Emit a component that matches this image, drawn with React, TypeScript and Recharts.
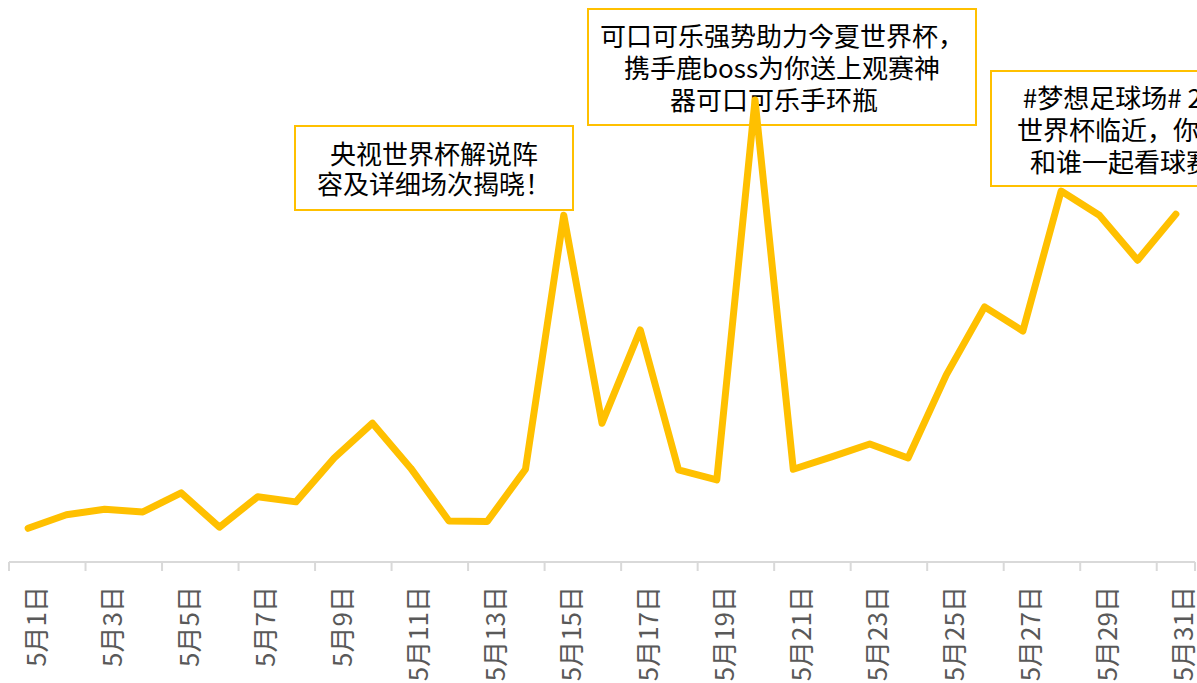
import React from 'react';
import { LineChart, Line, XAxis, YAxis } from 'recharts';

const days = [
  '5月1日', '5月2日', '5月3日', '5月4日', '5月5日', '5月6日', '5月7日', '5月8日',
  '5月9日', '5月10日', '5月11日', '5月12日', '5月13日', '5月14日', '5月15日', '5月16日',
  '5月17日', '5月18日', '5月19日', '5月20日', '5月21日', '5月22日', '5月23日', '5月24日',
  '5月25日', '5月26日', '5月27日', '5月28日', '5月29日', '5月30日', '5月31日',
];

const heat = [
  6.0, 8.4, 9.4, 8.9, 12.3, 6.2, 11.6, 10.7, 18.5, 24.7, 16.7, 7.3, 7.2, 16.5, 61.7, 24.7,
  41.3, 16.4, 14.6, 82.2, 16.5, 18.7, 21.0, 18.5, 33.3, 45.4, 41.1, 66.0, 61.7, 53.7, 61.9,
];

const notes1 = ['央视世界杯解说阵', '容及详细场次揭晓！'];
const notes2 = ['可口可乐强势助力今夏世界杯，', '携手鹿boss为你送上观赛神', '器可口可乐手环瓶'];
const notes3 = ['#梦想足球场# 2018', '世界杯临近，你最想', '和谁一起看球赛？'];

const data = days.map((d, i) => ({ x: i + 1, label: d, value: heat[i] }));
const axisTicks: number[] = [];
days.forEach((_, i) => {
  if (i % 2 === 0) {
    axisTicks.push(i + 0.5);
    axisTicks.push(i + 1);
  }
});
axisTicks.push(days.length + 0.5);

const FONT = '"Noto Sans CJK SC", "Noto Sans", sans-serif';

const AxisTick = (props: any) => {
  const { x, y, payload } = props;
  const v = payload.value as number;
  if (Number.isInteger(v)) {
    const tx = x + 6;
    const ty = y + 24;
    return (
      <text
        x={tx}
        y={ty}
        transform={`rotate(-90, ${tx}, ${ty})`}
        textAnchor="end"
        dominantBaseline="central"
        fill="#595959"
        fontSize={26}
        fontFamily={FONT}
      >
        {days[v - 1]}
      </text>
    );
  }
  return <line x1={x} y1={y} x2={x} y2={y + 9} stroke="#d9d9d9" strokeWidth={2} />;
};

const boxStyle = (left: number, top: number, width: number, height: number, lh: number): React.CSSProperties => ({
  position: 'absolute',
  left,
  top,
  width,
  height,
  boxSizing: 'border-box',
  border: '2px solid #FFC000',
  background: '#ffffff',
  display: 'flex',
  flexDirection: 'column',
  justifyContent: 'center',
  alignItems: 'center',
  fontFamily: FONT,
  fontSize: 26,
  lineHeight: `${lh}px`,
  color: '#000000',
  whiteSpace: 'nowrap',
  zIndex: 0,
});

export default function App() {
  return (
    <div
      style={{
        position: 'absolute',
        left: 0,
        top: 0,
        width: 1197,
        height: 683,
        overflow: 'hidden',
        background: '#ffffff',
      }}
    >
      <div style={boxStyle(294, 125, 280, 86, 30)}>
        {notes1.map((t) => (
          <div key={t}>{t}</div>
        ))}
      </div>
      <div style={boxStyle(587, 8, 390, 118, 32)}>
        {notes2.map((t, i) => (
          <div key={t} style={{ paddingRight: i === 2 ? 16 : 0 }}>{t}</div>
        ))}
      </div>
      <div style={boxStyle(990, 70, 288, 117, 32)}>
        {notes3.map((t) => (
          <div key={t}>{t}</div>
        ))}
      </div>
      <div style={{ position: 'absolute', left: 0, top: 0, zIndex: 1 }}>
        <LineChart width={1197} height={683} data={data} margin={{ top: 0, right: 2, bottom: 0, left: 9 }}>
          <XAxis
            dataKey="x"
            type="number"
            domain={[0.5, days.length + 0.5]}
            ticks={axisTicks}
            interval={0}
            tick={<AxisTick />}
            tickLine={false}
            tickSize={0}
            tickMargin={0}
            height={121}
            axisLine={{ stroke: '#d9d9d9', strokeWidth: 2 }}
          />
          <YAxis hide domain={[0, 100]} />
          <Line
            type="linear"
            dataKey="value"
            stroke="#FFC000"
            strokeWidth={7}
            strokeLinejoin="round"
            strokeLinecap="round"
            dot={false}
            activeDot={false}
            isAnimationActive={false}
          />
        </LineChart>
      </div>
    </div>
  );
}
